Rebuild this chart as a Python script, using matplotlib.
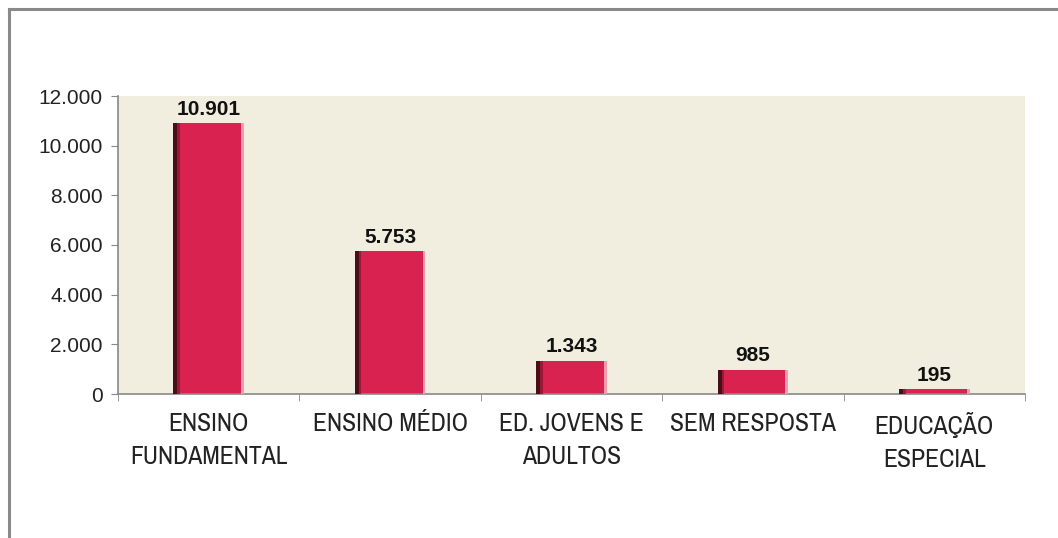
import matplotlib
matplotlib.use("Agg")
import matplotlib.pyplot as plt
from matplotlib.lines import Line2D
import numpy as np
from matplotlib import font_manager

categories = ["ENSINO\nFUNDAMENTAL", "ENSINO MÉDIO", "ED. JOVENS E\nADULTOS",
              "SEM RESPOSTA", "EDUCAÇÃO\nESPECIAL"]
values = [10901, 5753, 1343, 985, 195]
value_labels = ["10.901", "5.753", "1.343", "985", "195"]
yticks = [0, 2000, 4000, 6000, 8000, 10000, 12000]
ytick_labels = ["0", "2.000", "4.000", "6.000", "8.000", "10.000", "12.000"]

names = {f.name for f in font_manager.fontManager.ttflist}
narrow = "Archivo Narrow" if "Archivo Narrow" in names else "Liberation Sans"
plt.rcParams["font.family"] = ["Liberation Sans", "DejaVu Sans"]

fig = plt.figure(figsize=(10.58, 5.38), dpi=100)
fig.patch.set_facecolor("white")

# outer frame (top and left edges)
fig.add_artist(Line2D([8.5 / 1058, 8.5 / 1058], [0, 1 - 8.5 / 538], color="#8a8a8a",
                      lw=2.2, transform=fig.transFigure))
fig.add_artist(Line2D([8.5 / 1058, 1], [1 - 8.5 / 538, 1 - 8.5 / 538], color="#8a8a8a",
                      lw=2.2, transform=fig.transFigure))

ax = fig.add_axes([118 / 1058, (538 - 394) / 538, 907 / 1058, 298 / 538])
ax.set_facecolor("#F1EEDF")

x = np.arange(len(values))
w = 0.39
# bar body with a shaded left side and a light right edge
ax.bar(x, values, width=w, color="#DA2250", zorder=2)
ax.bar(x - w / 2 + 0.012, values, width=0.024, color="#4a0d1a", zorder=3)
ax.bar(x - w / 2 + 0.03, values, width=0.014, color="#9a1838", zorder=3)
ax.bar(x + w / 2 - 0.008, values, width=0.016, color="#F29AAE", zorder=3)

for xi, v, lab in zip(x, values, value_labels):
    ax.text(xi, v + 170, lab, ha="center", va="bottom", fontsize=15,
            fontweight="bold", color="#111111", family=["Liberation Sans", "DejaVu Sans"])

ax.set_xlim(-0.5, len(values) - 0.5)
ax.set_ylim(0, 12000)
ax.set_yticks(yticks)
ax.set_yticklabels(ytick_labels, fontsize=15, color="#222222")
ax.set_xticks(x)
ax.set_xticklabels(categories, fontsize=18.5, color="#222222", linespacing=1.5, va="top",
                   family=[narrow, "DejaVu Sans"])
ax.tick_params(axis="x", length=0, pad=13)
ax.set_xticks(np.arange(-0.5, len(values)), minor=True)
ax.tick_params(axis="x", which="minor", length=5, color="#888888")
ax.tick_params(axis="y", length=5, color="#888888", pad=6)

for side in ["top", "right"]:
    ax.spines[side].set_visible(False)
ax.spines["left"].set_color("#888888")
ax.spines["bottom"].set_color("#888888")
ax.spines["left"].set_linewidth(1.2)
ax.spines["bottom"].set_linewidth(1.2)

fig.savefig("out.png", dpi=100, facecolor="white")
